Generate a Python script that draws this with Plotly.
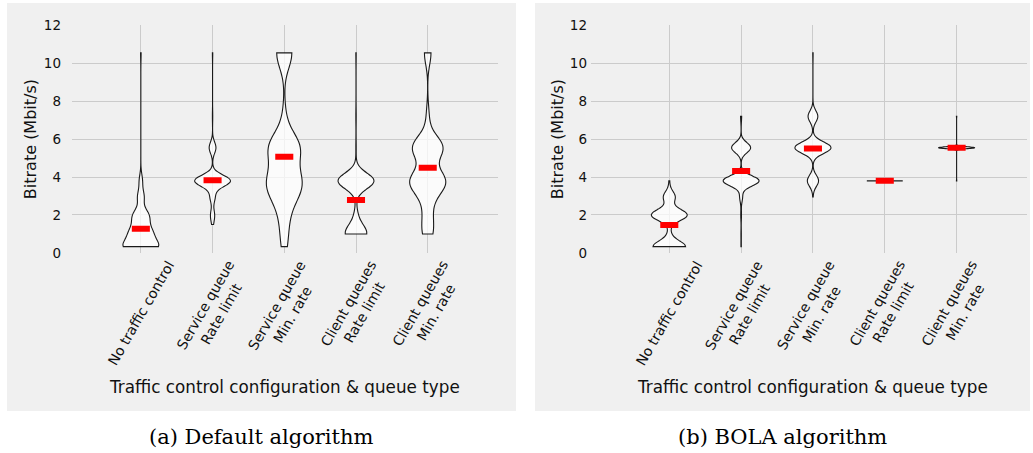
import numpy as np
import plotly.graph_objects as go

W, H = 1033, 453

categories = [
    "No traffic control",
    "Service queue<br>Rate limit",
    "Service queue<br>Min. rate",
    "Client queues<br>Rate limit",
    "Client queues<br>Min. rate",
]

# Representation bitrates of the video (Mbit/s)
levels = [0.33, 1.0, 1.5, 2.0, 2.95, 3.8, 5.55, 7.2, 10.55]

# Number of downloaded segments at each bitrate level, per configuration
default_counts = [
    [60, 35, 15, 25, 12, 6, 0, 0, 1],
    [0, 0, 3, 11, 14, 100, 19, 1, 1],
    [7, 5, 5, 7, 25, 55, 62, 5, 32],
    [0, 55, 9, 7, 1, 100, 1, 1, 1],
    [0, 22, 8, 15, 22, 100, 92, 8, 20],
]
bola_counts = [
    [90, 8, 0, 100, 33, 2, 0, 0, 0],
    [1, 1, 0, 2, 8, 100, 53, 3, 0],
    [0, 0, 0, 0, 1, 31, 100, 27, 1],
    [0, 0, 0, 0, 0, 100, 0, 0, 0],
    [0, 0, 0, 0, 0, 1, 100, 1, 0],
]

# KDE smoothing per violin (None -> library default)
default_bw = [0.35, 0.3, 0.8, 0.42, 0.62]
bola_bw = [0.3, 0.27, 0.3, None, 0.05]

captions = ["(a) Default algorithm", "(b) BOLA algorithm"]
y_ticks = [0, 2, 4, 6, 8, 10, 12]

BG = "#f0f0f0"
GRID = "#cbcbcb"
TXT = "#111111"
FONT = "DejaVu Sans"


def px_x(p):
    return p / W


def px_y(p):
    return (H - p) / H


panels = [
    dict(box=(7, 516), plot=(72, 498), xr=[-0.96, 4.98], ytitle_x=30,
         standoff=10, counts=default_counts, bw=default_bw),
    dict(box=(535, 1030), plot=(591, 1027), xr=[-1.09, 4.98], ytitle_x=557,
         standoff=3, counts=bola_counts, bw=bola_bw),
]

plot_top, plot_bottom = 25.4, 252.9

fig = go.Figure()
layout = dict(
    width=W, height=H,
    margin=dict(l=0, r=0, t=0, b=0, autoexpand=False),
    paper_bgcolor="white",
    plot_bgcolor=BG,
    violinmode="overlay",
    showlegend=False,
    font=dict(family=FONT, color=TXT),
    shapes=[], annotations=[],
)

for k, pan in enumerate(panels):
    xa = "x" if k == 0 else "x2"
    ya = "y" if k == 0 else "y2"
    yg = "y3" if k == 0 else "y4"
    xkey = "xaxis" if k == 0 else "xaxis2"
    ykey = "yaxis" if k == 0 else "yaxis2"
    gkey = "yaxis3" if k == 0 else "yaxis4"

    means = []
    for i, (cnt, bw) in enumerate(zip(pan["counts"], pan["bw"])):
        samples = np.repeat(levels, cnt)
        means.append(float(np.mean(samples)))
        vkw = dict(
            x0=i, y=samples, width=0.5, spanmode="hard", scalemode="width",
            points=False, fillcolor="rgba(255,255,255,0.72)",
            line=dict(color="#1a1a1a", width=1.1),
            box_visible=False, meanline_visible=False,
            hoverinfo="skip", xaxis=xa, yaxis=ya, showlegend=False,
        )
        if bw is not None:
            vkw["bandwidth"] = bw
        fig.add_trace(go.Violin(**vkw))

    # mean of each configuration
    fig.add_trace(go.Scatter(
        x=list(range(len(categories))), y=means, mode="markers",
        marker=dict(symbol="line-ew", size=12.9, color="red",
                    line=dict(color="red", width=6)),
        xaxis=xa, yaxis=yg, hoverinfo="skip", showlegend=False,
    ))

    x0, x1 = pan["plot"]
    dom_y = [px_y(plot_bottom), px_y(plot_top)]
    layout[xkey] = dict(
        domain=[px_x(x0), px_x(x1)], range=pan["xr"], type="linear",
        tickvals=list(range(len(categories))), showticklabels=False,
        showgrid=True, gridcolor=GRID, gridwidth=1, zeroline=False,
        showline=False, ticks="", anchor=ya, automargin=False,
    )
    layout[ykey] = dict(
        domain=dom_y, range=[0, 12], tickvals=y_ticks,
        ticktext=[str(v) for v in y_ticks], showgrid=False, zeroline=False,
        showline=False, ticks="", anchor=xa, automargin=False,
        tickfont=dict(family=FONT, size=13.5, color=TXT),
        ticklabelstandoff=pan["standoff"],
    )
    layout[gkey] = dict(
        overlaying=ya, range=[0, 12], tickvals=y_ticks[1:-1],
        showticklabels=False, showgrid=True, gridcolor=GRID, gridwidth=1,
        zeroline=False, showline=False, ticks="", anchor=xa,
        automargin=False,
    )

    bx0, bx1 = pan["box"]
    layout["shapes"].append(dict(
        type="rect", xref="paper", yref="paper", layer="below",
        x0=px_x(bx0), x1=px_x(bx1), y0=px_y(411), y1=px_y(3),
        fillcolor=BG, line=dict(width=0),
    ))

    # rotated category labels under each violin
    for i, cat in enumerate(categories):
        layout["annotations"].append(dict(
            x=i, xref=xa, y=px_y(255), yref="paper", text=cat,
            textangle=-60, xanchor="center", yanchor="top",
            showarrow=False, align="center",
            font=dict(family=FONT, size=14, color=TXT),
        ))

    layout["annotations"].append(dict(
        x=px_x(pan["ytitle_x"]), xref="paper",
        y=px_y((plot_top + plot_bottom) / 2), yref="paper",
        text="Bitrate (Mbit/s)", textangle=-90, showarrow=False,
        xanchor="center", yanchor="middle",
        font=dict(family=FONT, size=16, color=TXT),
    ))
    layout["annotations"].append(dict(
        x=2, xref=xa, y=px_y(386.7), yref="paper",
        text="Traffic control configuration &amp; queue type",
        showarrow=False, xanchor="center", yanchor="middle",
        font=dict(family=FONT, size=16.8, color=TXT),
    ))
    layout["annotations"].append(dict(
        x=px_x((bx0 + bx1) / 2), xref="paper", y=px_y(437), yref="paper",
        text=captions[k], showarrow=False, xanchor="center",
        yanchor="middle",
        font=dict(family="DejaVu Serif", size=21, color="#000000"),
    ))

fig.update_layout(**layout)
fig.write_html("out.html")
